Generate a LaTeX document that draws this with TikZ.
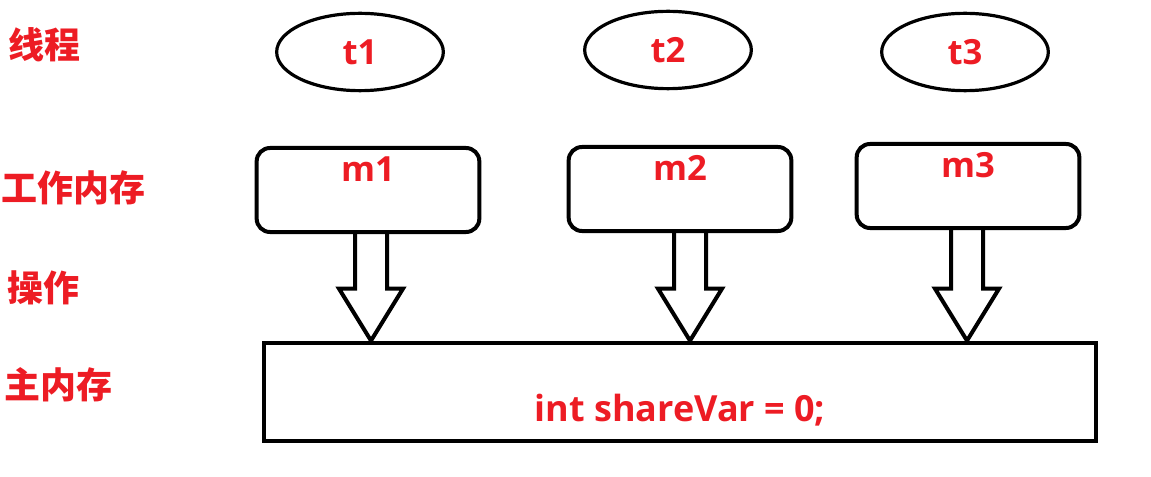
\documentclass[tikz,border=0pt]{standalone}
\usepackage{fontspec}
\setmainfont{Open Sans}
\newfontfamily\cjkfont{Noto Sans CJK SC}
\usetikzlibrary{calc,shapes.geometric}
\definecolor{paintred}{HTML}{ED1C24}
\tikzset{
  threadnode/.style={
    ellipse, draw=black, line width=2.4pt,
    minimum width=125pt, minimum height=58pt,
    inner sep=0pt, text=paintred,
    font=\fontsize{26}{30}\selectfont\bfseries
  },
  membox/.style={
    rectangle, draw=black, line width=3pt, rounded corners=10pt,
    minimum width=167pt, minimum height=63pt,
    text height=18pt, text depth=30pt, text=paintred,
    font=\fontsize{26}{30}\selectfont\bfseries
  },
  mainbox/.style={
    rectangle, draw=black, line width=3pt,
    minimum width=624pt, minimum height=74pt,
    text height=48pt, text depth=4pt, text=paintred,
    font=\fontsize{27}{32}\selectfont\bfseries
  },
  rowlabel/.style={
    anchor=west, inner sep=0pt, text=paintred,
    font=\cjkfont\bfseries\fontsize{27}{32}\selectfont
  },
  blockarrow/.style={
    draw=black, line width=3pt, line join=miter
  },
}
\begin{document}
\begin{tikzpicture}[x=0.75pt, y=-0.75pt]
  \useasboundingbox (0,0) rectangle (1151,477);

  % row labels
  \node[rowlabel] (lthread) at (8,45)  {线程};
  \node[rowlabel] (lwork)   at (1,188) {工作内存};
  \node[rowlabel] (lop)     at (7,288) {操作};
  \node[rowlabel] (lmain)   at (4,385) {主内存};

  % threads
  \node[threadnode] (t1) at (360,52) {t1};
  \node[threadnode] (t2) at (668,50) {t2};
  \node[threadnode] (t3) at (965,52) {t3};

  % working memory
  \node[membox] (m1) at (368,190) {m1};
  \node[membox] (m2) at (680,189) {m2};
  \node[membox] (m3) at (968,186) {m3};

  % main memory
  \node[mainbox] (mem) at (680,392) {int shareVar = 0;};

  \foreach \m/\dx in {m1/3, m2/10, m3/-1}
    \draw[blockarrow] ($(\m.south)+(\dx-16,0)$)
      -- ($(\m.south |- mem.north)+(\dx-16,-52)$)
      -- ++(-16,0)
      -- ($(\m.south |- mem.north)+(\dx,0)$)
      -- ($(\m.south |- mem.north)+(\dx+32,-52)$)
      -- ++(-16,0)
      -- ($(\m.south)+(\dx+16,0)$);
\end{tikzpicture}
\end{document}
